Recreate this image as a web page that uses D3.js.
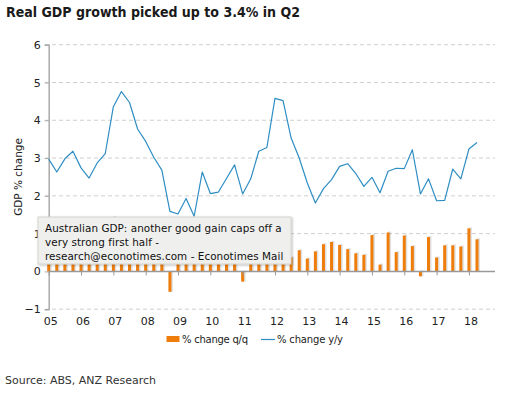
<!DOCTYPE html>
<html>
<head>
<meta charset="utf-8">
<script src="https://cdn.jsdelivr.net/npm/d3@7.9.0/dist/d3.min.js"></script>
<style>
  body { margin: 0; background: #fff; }
  svg { display: block; }
  text { font-family: "DejaVu Sans", Verdana, sans-serif; fill: #222; }
</style>
</head>
<body>
<svg id="chart" width="512" height="394"></svg>
<script>
// quarters from 2005 Q1 to 2018 Q2
const yearLabels = ['05','06','07','08','09','10','11','12','13','14','15','16','17','18'];

// % change q/q (bars) - the early ones sit behind the note box, estimated
const qoq = [
  0.6, 0.9, 0.7, 0.9,   0.6, 0.3, 1.38, 1.2,   1.44, 1.1, 0.7, 1.0,
  0.6, 0.5, 0.4, -0.54, 0.4, 0.6, 0.4, 0.8,    0.6, 0.7, 0.5, 0.9,
  -0.27, 1.1, 1.0, 0.9, 1.3, 0.6, 0.37, 0.56,  0.34, 0.53, 0.72, 0.78,
  0.70, 0.59, 0.48, 0.44, 0.96, 0.18, 1.03, 0.51, 0.95, 0.67, -0.13, 0.91,
  0.37, 0.69, 0.69, 0.66, 1.14, 0.85
];

// % change y/y (line)
const yoy = [
  2.97, 2.63, 2.98, 3.18, 2.74, 2.47, 2.87, 3.12, 4.36, 4.76, 4.47, 3.77,
  3.44, 3.02, 2.68, 1.59, 1.52, 1.93, 1.46, 2.63, 2.06, 2.10, 2.46, 2.82,
  2.05, 2.45, 3.18, 3.28, 4.58, 4.52, 3.53, 3.00, 2.34, 1.81, 2.19, 2.43,
  2.78, 2.85, 2.59, 2.25, 2.49, 2.08, 2.65, 2.73, 2.72, 3.22, 2.05, 2.45,
  1.87, 1.88, 2.71, 2.45, 3.24, 3.41
];

const yTicks = [-1, 0, 1, 2, 3, 4, 5, 6];
const noteLines = [
  'Australian GDP: another good gain caps off a',
  'very strong first half -',
  'research@econotimes.com - Econotimes Mail'
];

const barColor = '#ee7d0b';
const lineColor = '#2e8ec4';

const svg = d3.select('#chart');

const x = d3.scaleLinear().domain([0, qoq.length - 1]).range([48.7, 477]);
const y = d3.scaleLinear().domain([-1, 6]).range([309.2, 44.7]);
const plotRight = 495;

// title
svg.append('text')
  .attr('x', 6).attr('y', 17)
  .attr('font-size', 14).attr('font-weight', 'bold')
  .attr('textLength', 294).attr('lengthAdjust', 'spacingAndGlyphs')
  .style('fill', '#1a1a1a')
  .text('Real GDP growth picked up to 3.4% in Q2');

// grid lines
svg.append('g')
  .selectAll('line')
  .data(yTicks.filter(d => d !== 0))
  .join('line')
  .attr('x1', 45).attr('x2', plotRight)
  .attr('y1', d => y(d)).attr('y2', d => y(d))
  .attr('stroke', '#cfcfcf')
  .attr('stroke-dasharray', '4,3');

// y axis
const yAxis = svg.append('g')
  .attr('transform', `translate(${x(0)},0)`)
  .call(d3.axisLeft(y).tickValues(yTicks).tickSize(4).tickPadding(4).tickFormat(d3.format('d')));
yAxis.select('.domain').attr('stroke', '#aaa').attr('stroke-width', 1.5);
yAxis.selectAll('.tick line').attr('stroke', '#aaa');
yAxis.selectAll('text').attr('font-size', 11).style('fill', '#222');

svg.append('text')
  .attr('transform', `translate(22,${(y(6) + y(-1)) / 2}) rotate(-90)`)
  .attr('text-anchor', 'middle')
  .attr('font-size', 10.5)
  .text('GDP % change');

// bars with light shadow
const bw = 3;
const bars = svg.append('g');
bars.selectAll('rect.shadow')
  .data(qoq)
  .join('rect')
  .attr('class', 'shadow')
  .attr('x', (d, i) => x(i) - bw / 2 + 1.5)
  .attr('y', d => Math.min(y(d), y(0)) - 1)
  .attr('width', bw)
  .attr('height', d => Math.abs(y(d) - y(0)) + 1)
  .attr('fill', '#000')
  .attr('opacity', 0.12);
bars.selectAll('rect.bar')
  .data(qoq)
  .join('rect')
  .attr('class', 'bar')
  .attr('x', (d, i) => x(i) - bw / 2)
  .attr('y', d => Math.min(y(d), y(0)))
  .attr('width', bw)
  .attr('height', d => Math.abs(y(d) - y(0)))
  .attr('fill', barColor);

// zero line with year ticks
const xTickVals = yearLabels.map((_, k) => k * 4);
const xAxis = svg.append('g')
  .attr('transform', `translate(0,${y(0)})`)
  .call(d3.axisBottom(x).tickValues(xTickVals).tickSize(4).tickFormat(''));
xAxis.select('.domain').remove();
xAxis.selectAll('.tick line').attr('stroke', '#999');
svg.append('line')
  .attr('x1', x(0)).attr('x2', plotRight)
  .attr('y1', y(0)).attr('y2', y(0))
  .attr('stroke', '#999').attr('stroke-width', 1.5);

// year labels under the plot
const xLab = svg.append('g')
  .attr('transform', `translate(1.5,${y(-1)})`)
  .call(d3.axisBottom(x).tickValues(xTickVals).tickSize(0).tickPadding(8)
    .tickFormat((d, i) => yearLabels[i]));
xLab.select('.domain').remove();
xLab.selectAll('text').attr('font-size', 11).style('fill', '#222');

// y/y line
svg.append('path')
  .datum(yoy)
  .attr('fill', 'none')
  .attr('stroke', lineColor)
  .attr('stroke-width', 1.2)
  .attr('stroke-linejoin', 'round')
  .attr('d', d3.line().x((d, i) => x(i)).y(d => y(d)));

// legend
const lg = svg.append('g').attr('font-size', 10);
lg.append('rect').attr('x', 166.5).attr('y', 336).attr('width', 13).attr('height', 6).attr('fill', barColor);
lg.append('text').attr('x', 182).attr('y', 343)
  .attr('textLength', 66).attr('lengthAdjust', 'spacing').text('% change q/q');
lg.append('line').attr('x1', 261).attr('x2', 275).attr('y1', 339.5).attr('y2', 339.5)
  .attr('stroke', lineColor).attr('stroke-width', 1.2);
lg.append('text').attr('x', 277).attr('y', 343)
  .attr('textLength', 66).attr('lengthAdjust', 'spacing').text('% change y/y');

// source
svg.append('text')
  .attr('x', 5).attr('y', 384)
  .attr('font-size', 11)
  .style('fill', '#333')
  .text('Source: ABS, ANZ Research');

// note box over the chart
const defs = svg.append('defs');
const f = defs.append('filter').attr('id', 'sh').attr('x', '-10%').attr('y', '-10%').attr('width', '120%').attr('height', '130%');
f.append('feDropShadow').attr('dx', 1).attr('dy', 1).attr('stdDeviation', 1.2).attr('flood-opacity', 0.25);

const note = svg.append('g');
note.append('rect')
  .attr('x', 38).attr('y', 217).attr('width', 253).attr('height', 47)
  .attr('fill', '#efefed').attr('stroke', '#d4d4d0')
  .attr('filter', 'url(#sh)');
note.selectAll('text')
  .data(noteLines)
  .join('text')
  .attr('x', 45)
  .attr('y', (d, i) => 231.5 + i * 14)
  .attr('font-family', '"Liberation Sans", Arial, sans-serif')
  .attr('font-size', 10.4)
  .attr('letter-spacing', 0.05)
  .style('fill', '#111')
  .text(d => d);
</script>
</body>
</html>
